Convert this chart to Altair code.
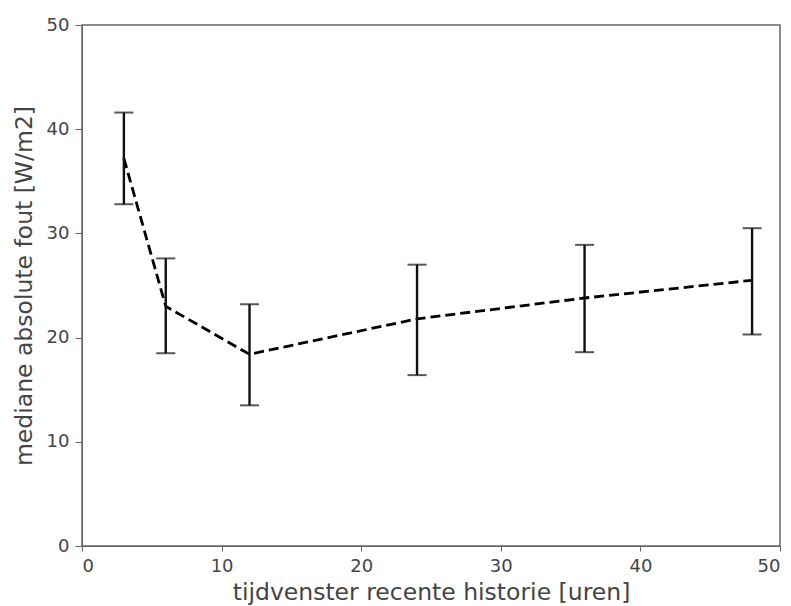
import altair as alt
import pandas as pd

hours = [3, 6, 12, 24, 36, 48]
median_err = [37.2, 23.0, 18.4, 21.8, 23.8, 25.5]
lower = [32.8, 18.5, 13.5, 16.4, 18.6, 20.3]
upper = [41.6, 27.6, 23.2, 27.0, 28.9, 30.5]

df = pd.DataFrame({"x": hours, "y": median_err, "lo": lower, "hi": upper})

FONT = "DejaVu Sans"
GREY = "#444444"

xs = alt.Scale(domain=[0, 50], nice=False, zero=False)
ys = alt.Scale(domain=[0, 50], nice=False)

xax = alt.Axis(values=[0, 10, 20, 30, 40, 50], grid=False, title="tijdvenster recente historie [uren]",
               labelFont=FONT, titleFont=FONT, labelFontSize=18, titleFontSize=23.5,
               labelColor=GREY, titleColor=GREY, titleFontWeight="normal",
               domainColor="#666666", tickColor="#666666", tickSize=5, labelPadding=6, titlePadding=5)
yax = alt.Axis(values=[0, 10, 20, 30, 40, 50], grid=False, title="mediane absolute fout [W/m2]",
               labelFont=FONT, titleFont=FONT, labelFontSize=18, titleFontSize=23.5,
               labelColor=GREY, titleColor=GREY, titleFontWeight="normal",
               domainColor="#666666", tickColor="#666666", tickSize=7, labelPadding=6, titlePadding=10)

base = alt.Chart(df)

line = base.mark_line(color="black", strokeWidth=2.8, strokeDash=[10, 5]).encode(
    x=alt.X("x:Q", scale=xs, axis=xax),
    y=alt.Y("y:Q", scale=ys, axis=yax),
)
bars = base.mark_rule(color="#111111", strokeWidth=2.4).encode(
    x=alt.X("x:Q", scale=xs), y=alt.Y("lo:Q", scale=ys), y2="hi:Q"
)
cap_lo = base.mark_tick(color="#111111", orient="horizontal", size=19, thickness=2).encode(
    x=alt.X("x:Q", scale=xs), y=alt.Y("lo:Q", scale=ys)
)
cap_hi = base.mark_tick(color="#111111", orient="horizontal", size=19, thickness=2).encode(
    x=alt.X("x:Q", scale=xs), y=alt.Y("hi:Q", scale=ys)
)

chart = (line + bars + cap_lo + cap_hi).properties(
    width=698, height=521,
    autosize=alt.AutoSizeParams(type="none"),
    padding={"left": 74, "top": 17, "right": 3, "bottom": 60},
    background="white",
).configure_view(stroke="#666666", strokeWidth=1.5)

chart.save("out.html", embed_options={"renderer": "svg", "actions": False})
